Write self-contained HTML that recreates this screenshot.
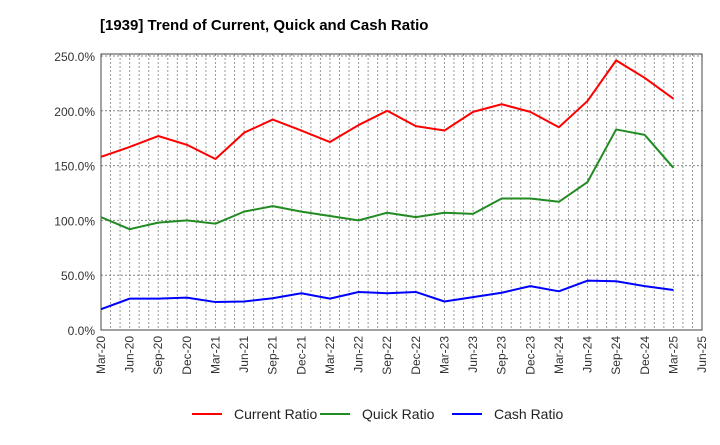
<!DOCTYPE html>
<html><head><meta charset="utf-8"><style>
body{margin:0;background:#fff;font-family:"Liberation Sans",Arial,sans-serif;}
</style></head><body>
<svg id="c" width="720" height="440" xmlns="http://www.w3.org/2000/svg">
<text x="100" y="30" font-size="15" font-weight="bold" fill="#000">[1939]  Trend of Current, Quick and Cash Ratio</text>
<g id="grid"></g><g id="axes"></g><g id="series"></g><g id="legend"></g>
</svg>
<script>
const categories=["Mar-20","Jun-20","Sep-20","Dec-20","Mar-21","Jun-21","Sep-21","Dec-21","Mar-22","Jun-22","Sep-22","Dec-22","Mar-23","Jun-23","Sep-23","Dec-23","Mar-24","Jun-24","Sep-24","Dec-24","Mar-25"];
const tickLabels=["Mar-20","Jun-20","Sep-20","Dec-20","Mar-21","Jun-21","Sep-21","Dec-21","Mar-22","Jun-22","Sep-22","Dec-22","Mar-23","Jun-23","Sep-23","Dec-23","Mar-24","Jun-24","Sep-24","Dec-24","Mar-25","Jun-25"];
const currentRatio=[158,167,177,169,156,180,192,182,171.5,187,200,186,182,199,206,199,185,209,246,230,211];
const quickRatio=[103,92,98,100,97,108,113,108,104,100,107,103,107,106,120,120,117,135,183,178,148];
const cashRatio=[19,28.6,28.6,29.5,25.5,26,29,33.5,28.6,34.7,33.5,34.7,26,30,34,40,35.3,45,44.5,40,36.5];
const yTicks=[0,50,100,150,200,250];
const NS="http://www.w3.org/2000/svg";
const L=101,R=702,T=56,B=330,ymax=250;
const step=(R-L)/(tickLabels.length-1);
const x=i=>L+i*step;
const y=v=>B-(v/ymax)*(B-T);
function mk(tag,attrs,parent){const e=document.createElementNS(NS,tag);for(const k in attrs)e.setAttribute(k,attrs[k]);parent.appendChild(e);return e;}
const grid=document.getElementById('grid'),axes=document.getElementById('axes'),ser=document.getElementById('series'),leg=document.getElementById('legend');
for(let m=1;m<(tickLabels.length-1)*3;m++){
  const gx=L+m*step/3;
  const g=mk('line',{x1:gx,x2:gx,y1:T-2,y2:B,stroke:'#999','stroke-width':1,'stroke-dasharray':'2,2'},grid);
  
  
}
yTicks.forEach(t=>{
  const gl=mk('line',{x1:L,x2:R,y1:y(t),y2:y(t),stroke:'#888','stroke-width':1,'stroke-dasharray':'2,2'},grid);
  
  
  const tx=mk('text',{x:L-6,y:y(t)+5,'font-size':12,'text-anchor':'end',fill:'#333'},axes);
  tx.textContent=t.toFixed(1)+'%';
  
  
});
const fr=mk('rect',{x:L,y:T-2,width:R-L,height:B-T+2,fill:'none',stroke:'#444','stroke-width':1},axes);


tickLabels.forEach((lab,i)=>{
  const tx=mk('text',{x:0,y:0,'font-size':12,'text-anchor':'end',fill:'#333',transform:`translate(${x(i)+4},${B+6}) rotate(-90)`},axes);
  tx.textContent=lab;
  
  
});
const series=[["current-ratio",currentRatio,"#ff0000","Current Ratio"],["quick-ratio",quickRatio,"#228b22","Quick Ratio"],["cash-ratio",cashRatio,"#0000ff","Cash Ratio"]];
series.forEach(([n,d,c])=>{
  const p=mk('polyline',{points:d.map((v,i)=>x(i)+','+y(v)).join(' '),fill:'none',stroke:c,'stroke-width':2,'stroke-linejoin':'round'},ser);
  
  
});
const lx=[192,320,452];
series.forEach(([n,d,c,lab],k)=>{
  const g=mk('g',{},leg);
  
  
  mk('line',{x1:lx[k],x2:lx[k]+30,y1:414,y2:414,stroke:c,'stroke-width':2},g);
  const t=mk('text',{x:lx[k]+42,y:419,'font-size':14,fill:'#222'},g);
  t.textContent=lab;
});
</script>
</body></html>
